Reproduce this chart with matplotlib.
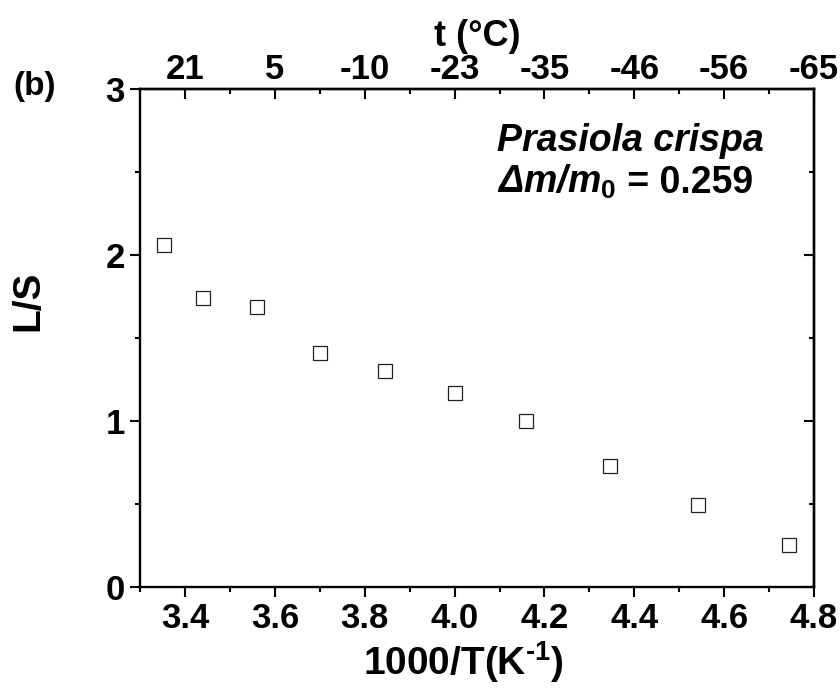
import numpy as np
import matplotlib
matplotlib.use('Agg')
import matplotlib.pyplot as plt
from matplotlib.ticker import MultipleLocator, FormatStrFormatter

#-----------------------------------------------------------------------------

# inverse temperature (1000/T, K^-1) and liquid/solid ratio
inv_T = [3.354, 3.441, 3.560, 3.701, 3.846, 4.000, 4.160, 4.347, 4.541, 4.745]
ls_ratio = [2.062, 1.741, 1.688, 1.412, 1.300, 1.168, 1.002, 0.728, 0.496, 0.252]

bottom_ticks = [3.4, 3.6, 3.8, 4.0, 4.2, 4.4, 4.6, 4.8]
top_labels = ['21', '5', '-10', '-23', '-35', '-46', '-56', '-65']  # t in degC

#-----------------------------------------------------------------------------

plt.rcParams['font.family'] = 'Liberation Sans'
plt.rcParams['font.weight'] = 'bold'
plt.rcParams['axes.labelweight'] = 'bold'
plt.rcParams['mathtext.fontset'] = 'custom'
plt.rcParams['mathtext.rm'] = 'Liberation Sans:bold'
plt.rcParams['mathtext.bf'] = 'Liberation Sans:bold'
plt.rcParams['mathtext.it'] = 'Liberation Sans:italic:bold'

fig = plt.figure(figsize=(8.4, 6.88), dpi=100)
ax = fig.add_axes([0.1667, 0.1468, 0.8024, 0.7238])

ax.plot(inv_T, ls_ratio, ls='none', marker='s', ms=10, mfc='white',
        mec='#222222', mew=0.9)

ax.set_xlim(3.3, 4.8)
ax.set_ylim(0, 3)
ax.xaxis.set_major_locator(MultipleLocator(0.2))
ax.xaxis.set_minor_locator(MultipleLocator(0.1))
ax.yaxis.set_major_locator(MultipleLocator(1))
ax.yaxis.set_minor_locator(MultipleLocator(0.5))
ax.xaxis.set_major_formatter(FormatStrFormatter('%.1f'))

for s in ax.spines.values():
    s.set_linewidth(1.7)

ax.tick_params(which='both', direction='out', width=1.5, labelsize=25,
               top=False, right=False)
ax.tick_params(which='major', length=7, pad=4)
ax.tick_params(which='minor', length=3.8)

ax.set_xlabel(r'1000/T(K$^{\text{-1}}$)', fontsize=28, fontweight='bold')
ax.xaxis.set_label_coords(0.479, -0.105)
ax.set_ylabel('L/S', fontsize=28, fontweight='bold')
ax.yaxis.set_label_coords(-0.139, 0.575)

# top axis: temperature labels at the same positions
top = ax.secondary_xaxis('top')
top.set_xticks(bottom_ticks)
top.set_xticklabels(top_labels)
top.xaxis.set_minor_locator(MultipleLocator(0.1))
top.tick_params(which='both', direction='in', width=1.5, labelsize=25)
top.tick_params(which='major', length=7, pad=2)
top.tick_params(which='minor', length=3.8)
top.spines['top'].set_linewidth(1.7)
top.set_xlabel('t (°C)', fontsize=26, fontweight='bold', labelpad=5)

# right axis: inward ticks, no labels
right = ax.secondary_yaxis('right')
right.yaxis.set_major_locator(MultipleLocator(1))
right.yaxis.set_minor_locator(MultipleLocator(0.5))
right.tick_params(which='both', direction='in', width=1.5, labelright=False)
right.tick_params(which='major', length=7)
right.tick_params(which='minor', length=3.8)
right.spines['right'].set_linewidth(1.7)

ax.text(0.530, 0.876, 'Prasiola crispa', transform=ax.transAxes,
        fontsize=27, style='italic', va='baseline')

# mass ratio: italic symbol part, then upright value right after it
t1 = ax.text(0.530, 0.792, r'Δm/m$_{\mathit{0}}$', transform=ax.transAxes,
             fontsize=27, style='italic', va='baseline')
fig.canvas.draw()
bb = t1.get_window_extent(renderer=fig.canvas.get_renderer())
x_end = ax.transAxes.inverted().transform((bb.x1, bb.y0))[0]
ax.text(x_end, 0.792, ' = 0.259', transform=ax.transAxes,
        fontsize=27, va='baseline')

fig.text(35/840, 1 - 86/688, '(b)', fontsize=24, ha='center', va='center')

fig.savefig('out.png', dpi=100)
